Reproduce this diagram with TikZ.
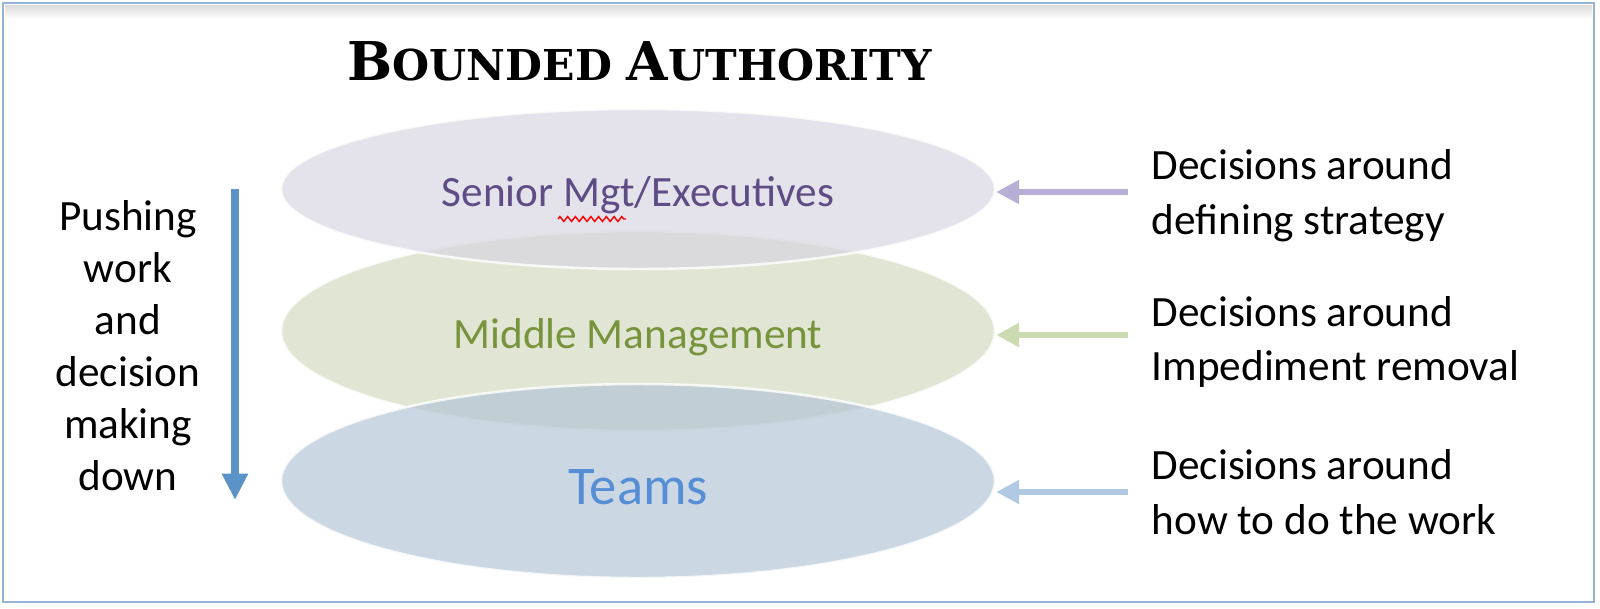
\documentclass[tikz,border=0pt]{standalone}
\usepackage{fontspec}
\setmainfont{Carlito}
\newfontfamily\titlefont{DejaVu Serif}
\usetikzlibrary{arrows.meta,positioning,shapes.geometric,decorations.pathmorphing}

\definecolor{framecol}{HTML}{95B3D7}
\definecolor{seniorfill}{RGB}{216,214,225}
\definecolor{middlefill}{RGB}{224,230,211}
\definecolor{teamfill}{RGB}{181,198,215}
\definecolor{seniortext}{HTML}{5F4C86}
\definecolor{middletext}{HTML}{77933C}
\definecolor{teamtext}{HTML}{558ED5}
\definecolor{pushcol}{HTML}{5B93C9}
\definecolor{seniorarr}{HTML}{B9AFD6}
\definecolor{middlearr}{HTML}{CCDBB2}
\definecolor{teamarr}{HTML}{B2C9E3}

\begin{document}
\begin{tikzpicture}[
    level/.style={ellipse, draw=white, draw opacity=0.8, line width=0.7pt, minimum width=7.14cm, inner sep=0pt, text opacity=1},
    note/.style={align=left, inner sep=0pt, font=\fontsize{12.3}{15.6}\selectfont},
    into/.style={-{Triangle[width=6.5pt,length=6.5pt]}, line width=1.6pt},
    >=Stealth
  ]
  \useasboundingbox (0,0) rectangle (16,6.08);
  % frame
  \shade[top color=black!14, bottom color=white] (0.05,5.89) rectangle (15.92,6.03);
  \draw[framecol, line width=0.6pt] (0.03,0.06) rectangle (15.94,6.05);

  \node[anchor=base west, inner sep=0pt] (title) at (3.47,5.28) {\titlefont\bfseries
    {\fontsize{15.2}{18}\selectfont B}{\fontsize{12.1}{15}\selectfont OUNDED }%
    {\fontsize{15.2}{18}\selectfont A}{\fontsize{12.1}{15}\selectfont UTHORITY}};

  % the three levels
  \node[level, fill=middlefill, minimum height=2.0cm, text=middletext,
    font=\fontsize{12.3}{15}\selectfont, text height=12.3pt, text depth=2.1pt] (middle) at (6.38,2.77) {Middle Management};
  \node[level, fill=seniorfill, fill opacity=0.7, minimum height=1.6cm, text=seniortext,
    font=\fontsize{12.3}{15}\selectfont, text height=12.3pt, text depth=2.1pt] (senior) at (6.38,4.19) {Senior Mgt/Executives};
  \node[level, fill=teamfill, fill opacity=0.7, minimum height=1.94cm, text=teamtext,
    font=\fontsize{15.5}{18}\selectfont, text height=13.4pt, text depth=0pt] (teams) at (6.38,1.27) {Teams};
  \draw[red, line width=0.4pt, decorate, decoration={zigzag, segment length=2.2pt, amplitude=0.7pt}]
    (5.58,3.89) -- (6.26,3.89);

  % left side
  \node[align=center, inner sep=0pt, font=\fontsize{12.3}{14.8}\selectfont] (push) at (1.28,2.62)
    {Pushing\\work\\and\\decision\\making\\down};
  \coordinate (pushtop) at (2.35,4.19);
  \coordinate (pushbot) at (2.35,1.08);
  \draw[pushcol, line width=2.2pt, -{Triangle[width=7pt,length=7.5pt]}] (pushtop) -- (pushbot);

  % right side
  \node[note, anchor=west] (strat) at (11.51,4.12) {Decisions around\\defining strategy};
  \node[note, anchor=west] (impede) at (11.51,2.66) {Decisions around\\Impediment removal};
  \node[note, anchor=west] (howto) at (11.51,1.16) {Decisions around\\how to do the work};

  \draw[into, seniorarr] ([xshift=-2.3mm,yshift=0.4mm]strat.west) -- ([yshift=0.4mm]strat.west -| senior.east);
  \draw[into, middlearr] ([xshift=-2.3mm,yshift=0.7mm]impede.west) -- ([yshift=0.7mm]impede.west -| middle.east);
  \draw[into, teamarr] ([xshift=-2.3mm]howto.west) -- (howto.west -| teams.east);
\end{tikzpicture}
\end{document}
